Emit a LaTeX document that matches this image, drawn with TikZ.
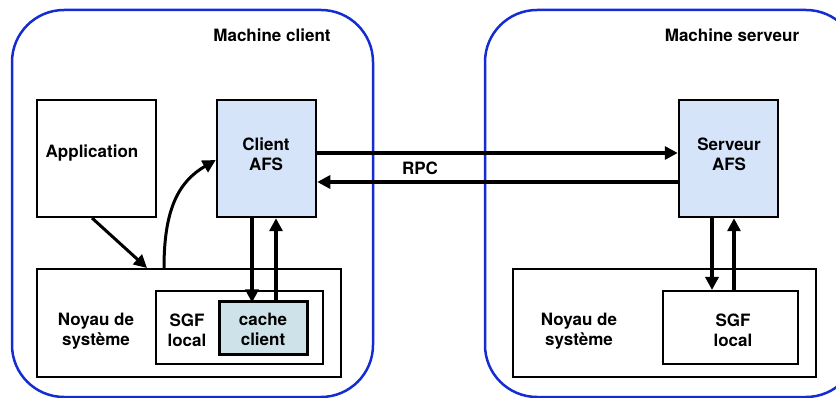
\documentclass[tikz,border=0pt]{standalone}
\usepackage{fontspec}
\setmainfont{TeX Gyre Heros}
\usetikzlibrary{arrows.meta}
\definecolor{machblue}{RGB}{20,45,210}
\definecolor{afsfill}{RGB}{214,228,250}
\definecolor{cachefill}{RGB}{206,226,234}
\begin{document}
\begin{tikzpicture}[x=1pt,y=-1pt,
  machine/.style={draw=machblue, line width=2.5pt, rounded corners=52pt, inner sep=0pt},
  box/.style={draw=black, line width=2pt, inner sep=0pt},
  afs/.style={box, fill=afsfill, line width=2.5pt},
  lbl/.style={font=\fontsize{17}{20}\selectfont\bfseries, align=center, inner sep=0pt},
  arr/.style={line width=3.5pt, -{Triangle[length=13pt,width=13pt]}}
]
\useasboundingbox (0,0) rectangle (836,398);
\clip (0,0) rectangle (836,398);
% machines
\node[machine, minimum width=361pt, minimum height=387pt] (mc) at (192.5,203.5) {};
\node[machine, minimum width=373pt, minimum height=387pt] (ms) at (671.5,203.5) {};
\node[lbl] (tmc) at (272,35) {Machine client};
\node[lbl] (tms) at (732,35) {Machine serveur};
% client side
\node[box, minimum width=119pt, minimum height=117pt] (app) at (96.5,158.5) {};
\node[lbl] (tapp) at (92,153) {Application};
\node[afs, minimum width=99pt, minimum height=117pt] (cafs) at (266.5,158.5) {};
\node[lbl] (tcafs) at (266,154) {Client\\AFS};
\node[box, minimum width=304pt, minimum height=108pt] (kc) at (189,323) {};
\node[lbl] (tkc) at (96,331) {Noyau de\\système};
\node[box, minimum width=167pt, minimum height=73pt] (sgfc) at (239.5,327.5) {};
\node[lbl] (tsgfc) at (187,330) {SGF\\local};
\node[box, draw=black, line width=3pt, fill=cachefill, minimum width=88pt, minimum height=52pt] (cache) at (263,328) {};
\node[lbl] (tcache) at (263,329) {cache\\client};
% server side
\node[afs, minimum width=99pt, minimum height=117pt] (safs) at (728.5,158.5) {};
\node[lbl] (tsafs) at (729,154) {Serveur\\AFS};
\node[box, minimum width=303pt, minimum height=108pt] (ks) at (664.5,323) {};
\node[lbl] (tks) at (579,331) {Noyau de\\système};
\node[box, minimum width=135pt, minimum height=73pt] (sgfs) at (730.5,327.5) {};
\node[lbl] (tsgfs) at (733,330) {SGF\\local};
% helper coordinates
\coordinate (r1) at (0,153);
\coordinate (r2) at (0,182);
\coordinate (d1) at (252,0);
\coordinate (u1) at (276,0);
\coordinate (d2) at (712,0);
\coordinate (u2) at (734,0);
\coordinate (a1) at (92,0);
\coordinate (a2) at (147,0);
\coordinate (c1) at (164,0);
\coordinate (c2) at (0,160);
% RPC
\draw[arr] (cafs.east |- r1) -- (safs.west |- r1);
\draw[arr] (safs.west |- r2) -- (cafs.east |- r2);
\node[lbl] (rpc) at (420,168) {RPC};
% vertical arrows
\draw[arr] (cafs.south -| d1) -- ([yshift=-2pt]cache.north -| d1);
\draw[arr] ([yshift=-2pt]cache.north -| u1) -- (cafs.south -| u1);
\draw[arr] (safs.south -| d2) -- (sgfs.north -| d2);
\draw[arr] (sgfs.north -| u2) -- (safs.south -| u2);
% application to kernel
\draw[arr, line width=3pt] (app.south -| a1) -- (kc.north -| a2);
% kernel to client AFS
\draw[arr, line width=3pt] (kc.north -| c1) .. controls (164,210) and (178,182) .. (cafs.west |- c2);
\end{tikzpicture}
\end{document}
